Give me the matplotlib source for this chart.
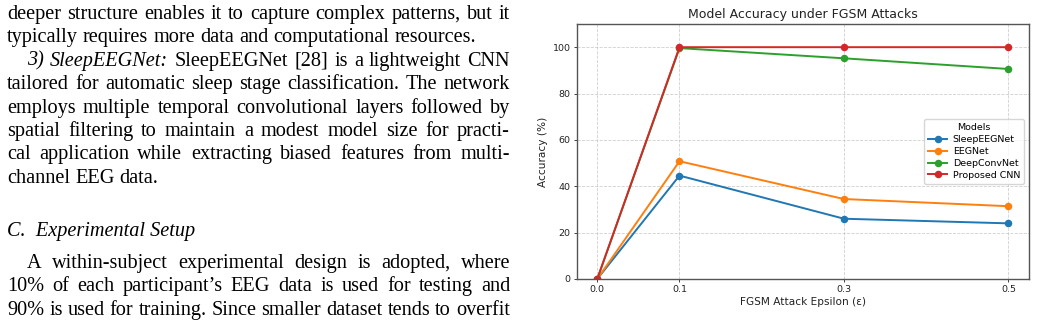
import matplotlib
matplotlib.use("Agg")
import matplotlib.pyplot as plt

# ---------------- data ----------------
epsilons = [0.0, 0.1, 0.3, 0.5]
tick_labels = ["0.0", "0.1", "0.3", "0.5"]
sleepeegnet = [0.0, 44.6, 26.0, 24.0]
eegnet = [0.0, 50.8, 34.5, 31.4]
deepconvnet = [0.0, 99.6, 95.2, 90.6]
proposed_cnn = [0.0, 100.0, 100.0, 100.0]
series_names = ["SleepEEGNet", "EEGNet", "DeepConvNet", "Proposed CNN"]
series_colors = ["#1f77b4", "#ff7f0e", "#2ca02c", "#d62728"]

# paper text lines: (segments, indent, justified); segment = (text, italic)
text_lines = [
    ([("deeper structure enables it to capture complex patterns, but it", False)], False, True),
    ([("typically requires more data and computational resources.", False)], False, False),
    ([("3) SleepEEGNet:", True), ("SleepEEGNet [28] is a lightweight CNN", False)], True, True),
    ([("tailored for automatic sleep stage classification. The network", False)], False, True),
    ([("employs multiple temporal convolutional layers followed by", False)], False, True),
    ([("spatial filtering to maintain a modest model size for practi-", False)], False, True),
    ([("cal application while extracting biased features from multi-", False)], False, True),
    ([("channel EEG data.", False)], False, False),
]
heading = "C.  Experimental Setup"
text_lines2 = [
    ([("A within-subject experimental design is adopted, where", False)], True, True),
    ([("10% of each participant\u2019s EEG data is used for testing and", False)], False, True),
    ([("90% is used for training. Since smaller dataset tends to overfit", False)], False, True),
]

W, H = 1037, 329
fig = plt.figure(figsize=(W / 100, H / 100), dpi=100)
renderer = fig.canvas.get_renderer()

SERIF = "Liberation Serif"
FS = 14.6
LEFT, RIGHT, INDENT = 7, 510, 27


def text_width(s, italic=False):
    t = fig.text(0, 0, s, fontsize=FS, family=SERIF,
                 style="italic" if italic else "normal")
    w = t.get_window_extent(renderer).width
    t.remove()
    return w


SPACE = text_width("a a") - text_width("aa")


def draw_line(segments, y_base, indent, justified):
    x0 = INDENT if indent else LEFT
    words = []
    for txt, ital in segments:
        for w in txt.split(" "):
            words.append((w, ital))
    arts = []
    widths = []
    for w, ital in words:
        t = fig.text(0, 1 - y_base / H, w, fontsize=FS, family=SERIF,
                     style="italic" if ital else "normal", va="baseline",
                     ha="left", color="black")
        arts.append(t)
        widths.append(t.get_window_extent(renderer).width)
    if justified and len(words) > 1:
        gap = (RIGHT - x0 - sum(widths)) / (len(words) - 1)
    else:
        gap = SPACE
    x = x0
    for t, wd in zip(arts, widths):
        t.set_x(x / W)
        x += wd + gap


base0 = 19.0
step = 23.4
for i, (segs, ind, just) in enumerate(text_lines):
    draw_line(segs, base0 + i * step, ind, just)
fig.text(LEFT / W, 1 - 236 / H, heading, fontsize=FS, family=SERIF,
         style="italic", va="baseline", ha="left")
for i, (segs, ind, just) in enumerate(text_lines2):
    draw_line(segs, 268 + i * step, ind, just)

# ---------------- chart ----------------
ax = fig.add_axes([576.7 / W, 50 / H, (1029 - 576.7) / W, (279 - 24) / H])
all_series = [sleepeegnet, eegnet, deepconvnet, proposed_cnn]
for vals, name, col in zip(all_series, series_names, series_colors):
    ax.plot(epsilons, vals, marker="o", color=col, label=name, lw=1.4, ms=4.4)

ax.set_xlim(-0.025, 0.525)
ax.set_ylim(0, 110)
ax.set_xticks(epsilons)
ax.set_xticklabels(tick_labels)
ax.set_yticks([0, 20, 40, 60, 80, 100])
ax.grid(True, linestyle="--", color="#b0b0b0", alpha=0.6, lw=0.6)
ax.tick_params(labelsize=6.8, length=2.5, width=0.6, pad=2, colors="#222222")
for s in ax.spines.values():
    s.set_linewidth(1.0)
    s.set_color("#555555")
ax.set_title("Model Accuracy under FGSM Attacks", fontsize=9.0, pad=4, color="#222222")
ax.set_xlabel("FGSM Attack Epsilon (\u03b5)", fontsize=7.6, labelpad=2, color="#222222")
ax.set_ylabel("Accuracy (%)", fontsize=7.6, labelpad=3, color="#222222")
leg = ax.legend(title="Models", loc="center right", fontsize=6.8,
                title_fontsize=6.8, borderpad=0.45, labelspacing=0.3,
                handlelength=2.0, handletextpad=0.6, framealpha=0.8)

fig.savefig("out.png", dpi=100)
